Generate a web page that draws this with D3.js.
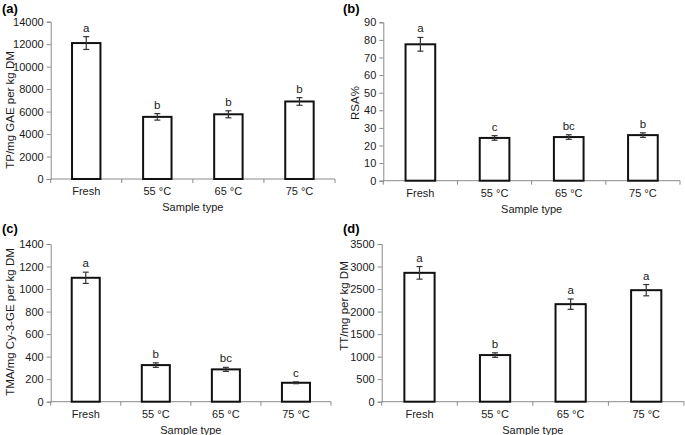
<!DOCTYPE html>
<html>
<head>
<meta charset="utf-8">
<script src="https://cdn.jsdelivr.net/npm/d3@7/dist/d3.min.js"></script>
<style>
  body { margin: 0; background: #fff; }
  svg { display: block; font-family: "Liberation Sans", Arial, sans-serif; }
</style>
</head>
<body>
<svg id="chart" width="685" height="435"></svg>
<script>
// ---- data ----
const categories = ["Fresh", "55 °C", "65 °C", "75 °C"];

const tpValues  = [12100, 5530, 5760, 6900];
const tpErrors  = [570, 290, 310, 340];
const tpLetters = ["a", "b", "b", "b"];
const tpTicks   = [0, 2000, 4000, 6000, 8000, 10000, 12000, 14000];

const rsaValues  = [77.5, 24.3, 24.8, 25.9];
const rsaErrors  = [3.9, 1.3, 1.3, 1.3];
const rsaLetters = ["a", "c", "bc", "b"];
const rsaTicks   = [0, 10, 20, 30, 40, 50, 60, 70, 80, 90];

const tmaValues  = [1100, 325, 287, 168];
const tmaErrors  = [50, 20, 18, 8];
const tmaLetters = ["a", "b", "bc", "c"];
const tmaTicks   = [0, 200, 400, 600, 800, 1000, 1200, 1400];

const ttValues  = [2860, 1035, 2165, 2475];
const ttErrors  = [140, 50, 115, 125];
const ttLetters = ["a", "b", "a", "a"];
const ttTicks   = [0, 500, 1000, 1500, 2000, 2500, 3000, 3500];

const panelTags  = ["(a)", "(b)", "(c)", "(d)"];
const yTitles    = ["TP/mg GAE per kg DM", "RSA%", "TMA/mg Cy-3-GE per kg DM", "TT/mg per kg DM"];
const xTitle     = "Sample type";

// ---- layout ----
const panels = [
  { tag: panelTags[0], yTitle: yTitles[0], values: tpValues, errors: tpErrors, letters: tpLetters, ticks: tpTicks,
    x0: 50.7, x1: 335, yTop: 21.7, yBot: 179, tagX: 2, tagY: 13, titleX: 10, titleY: 110 },
  { tag: panelTags[1], yTitle: yTitles[1], values: rsaValues, errors: rsaErrors, letters: rsaLetters, ticks: rsaTicks,
    x0: 383.3, x1: 680, yTop: 22.3, yBot: 180.7, tagX: 343, tagY: 13, titleX: 355, titleY: 103 },
  { tag: panelTags[2], yTitle: yTitles[2], values: tmaValues, errors: tmaErrors, letters: tmaLetters, ticks: tmaTicks,
    x0: 50.7, x1: 331, yTop: 244, yBot: 401.7, tagX: 2, tagY: 233, titleX: 10, titleY: 322 },
  { tag: panelTags[3], yTitle: yTitles[3], values: ttValues, errors: ttErrors, letters: ttLetters, ticks: ttTicks,
    x0: 381.7, x1: 684, yTop: 244, yBot: 401.7, tagX: 343, tagY: 233, titleX: 344, titleY: 306 }
];

const svg = d3.select("#chart");
const axisColor = "#8a8a8a";
const textColor = "#1a1a1a";

panels.forEach(p => {
  const g = svg.append("g");
  const maxT = p.ticks[p.ticks.length - 1];
  const y = d3.scaleLinear().domain([0, maxT]).range([p.yBot, p.yTop]);
  const x = d3.scaleBand().domain(categories).range([p.x0, p.x1])
    .paddingInner(0.6).paddingOuter(0.3).align(0.5);
  const bounds = d3.scaleLinear().domain([0, categories.length]).range([p.x0, p.x1]);

  // y axis
  const yAxis = g.append("g").attr("transform", `translate(${p.x0},0)`)
    .call(d3.axisLeft(y).tickValues(p.ticks).tickSize(4).tickPadding(3).tickFormat(d3.format("d")));
  yAxis.select(".domain").attr("stroke", axisColor);
  yAxis.selectAll(".tick line").attr("stroke", axisColor);
  yAxis.selectAll(".tick text").attr("fill", textColor).attr("font-size", 11)
    .attr("font-family", "Liberation Sans, Arial, sans-serif");

  // x axis line and boundary ticks
  g.append("line").attr("x1", p.x0).attr("x2", p.x1).attr("y1", p.yBot).attr("y2", p.yBot)
    .attr("stroke", axisColor).attr("stroke-width", 1);
  g.selectAll(".bt").data(d3.range(categories.length + 1)).join("line")
    .attr("x1", i => bounds(i)).attr("x2", i => bounds(i))
    .attr("y1", p.yBot).attr("y2", p.yBot + 4)
    .attr("stroke", axisColor);

  // category labels
  g.selectAll(".cl").data(categories).join("text")
    .attr("x", d => x(d) + x.bandwidth() / 2).attr("y", p.yBot + 16)
    .attr("text-anchor", "middle").attr("font-size", 11).attr("fill", textColor)
    .text(d => d);

  // x title
  g.append("text").attr("x", (p.x0 + p.x1) / 2).attr("y", p.yBot + 32)
    .attr("text-anchor", "middle").attr("font-size", 11).attr("fill", textColor).text(xTitle);

  // y title
  g.append("text").attr("transform", `translate(${p.titleX},${p.titleY}) rotate(-90)`)
    .attr("text-anchor", "middle").attr("dominant-baseline", "central")
    .attr("font-size", 11.5).attr("fill", textColor).text(p.yTitle);

  // panel tag
  g.append("text").attr("x", p.tagX).attr("y", p.tagY)
    .attr("font-size", 13).attr("font-weight", "bold").attr("fill", "#000").text(p.tag);

  // bars
  g.selectAll(".bar").data(categories).join("rect")
    .attr("x", d => x(d)).attr("width", x.bandwidth())
    .attr("y", (d, i) => y(p.values[i])).attr("height", (d, i) => p.yBot - y(p.values[i]))
    .attr("fill", "#fff").attr("stroke", "#111").attr("stroke-width", 2);

  // error bars
  const cap = 3;
  categories.forEach((c, i) => {
    const cx = x(c) + x.bandwidth() / 2;
    const yHi = y(p.values[i] + p.errors[i]);
    const yLo = y(p.values[i] - p.errors[i]);
    g.append("line").attr("x1", cx).attr("x2", cx).attr("y1", yHi).attr("y2", yLo)
      .attr("stroke", "#333").attr("stroke-width", 1.2);
    [yHi, yLo].forEach(yy => g.append("line").attr("x1", cx - cap).attr("x2", cx + cap)
      .attr("y1", yy).attr("y2", yy).attr("stroke", "#333").attr("stroke-width", 1.2));
    g.append("text").attr("x", cx).attr("y", yHi - 5)
      .attr("text-anchor", "middle").attr("font-size", 11.5).attr("fill", textColor)
      .text(p.letters[i]);
  });
});
</script>
</body>
</html>
